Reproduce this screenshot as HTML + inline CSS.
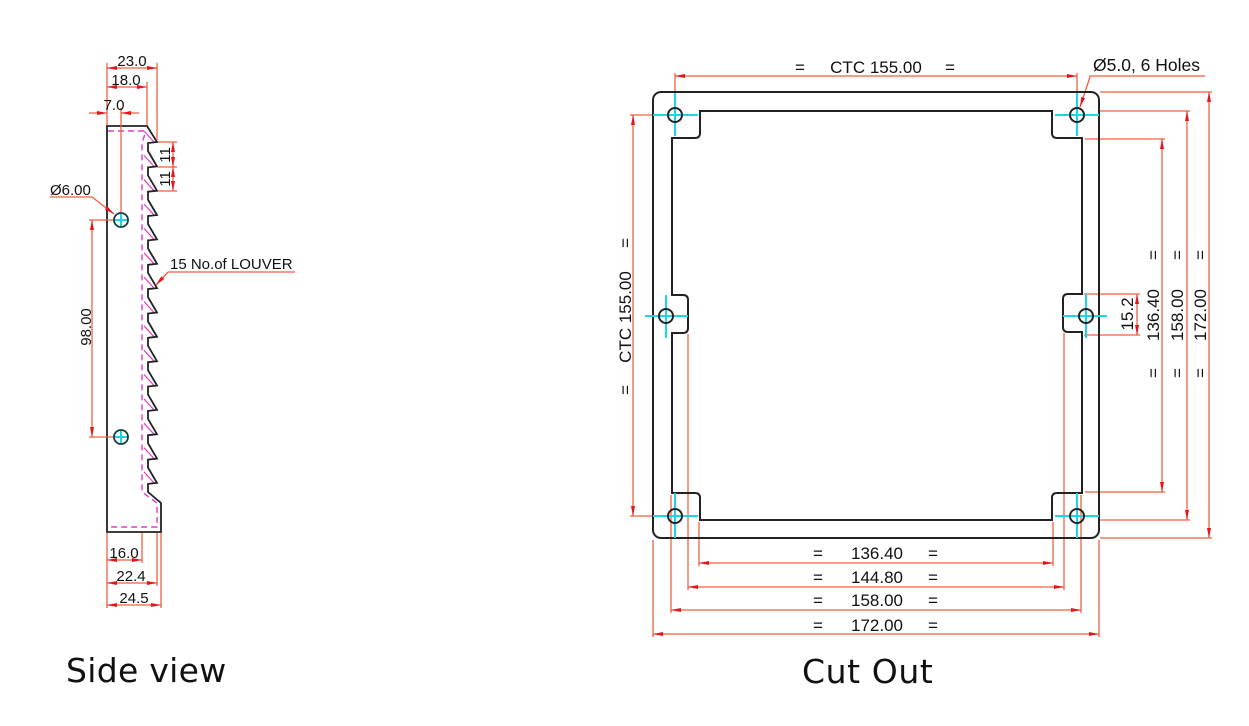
<!DOCTYPE html>
<html><head><meta charset="utf-8"><style>
html,body{margin:0;padding:0;background:#fff;}
svg{display:block;}
text{font-family:"Liberation Sans",Arial,sans-serif;fill:#111;}
.t{font-family:"DejaVu Sans","Liberation Sans",sans-serif;font-size:33px;fill:#111;}
.r{stroke:#f0603f;stroke-width:1.3;fill:none;}
.ra{stroke:#f0603f;stroke-width:1.3;fill:none;marker-start:url(#a);marker-end:url(#a);}
.re{stroke:#f0603f;stroke-width:1.3;fill:none;marker-end:url(#a);}
.k{stroke:#222;stroke-width:2;fill:none;}
.c{stroke:#1ad6e6;stroke-width:2;fill:none;}
.m{stroke:#e03cc8;stroke-width:1.4;fill:none;stroke-dasharray:6 4;}
.p{stroke:#e03cc8;stroke-width:1.2;fill:none;}
.s15{font-size:15px;}
.s17{font-size:17px;}
</style></head><body>
<svg width="1249" height="726" viewBox="0 0 1249 726" xmlns="http://www.w3.org/2000/svg">
<defs>
<marker id="a" viewBox="0 0 10 4" refX="10" refY="2" markerWidth="10" markerHeight="4" orient="auto-start-reverse" markerUnits="userSpaceOnUse"><path d="M0,0L10,2L0,4z" fill="#e8141c"/></marker>
</defs>
<rect width="1249" height="726" fill="#fff"/>

<!-- ================= SIDE VIEW ================= -->
<!-- magenta hidden lines -->
<path class="m" d="M108,131 L144,131 Q146,134 142,142 L142,492 L157,503 L157,527 L108,527"/>
<g class="p">
<path d="M144,131 L154,142"/>
<path d="M144,155.4 L154,166.4"/>
<path d="M144,179.7 L154,190.7"/>
<path d="M144,204 L154,215"/>
<path d="M144,228.4 L154,239.4"/>
<path d="M144,252.8 L154,263.8"/>
<path d="M144,277.1 L154,288.1"/>
<path d="M144,301.5 L154,312.5"/>
<path d="M144,325.8 L154,336.8"/>
<path d="M144,350.2 L154,361.2"/>
<path d="M144,374.5 L154,385.5"/>
<path d="M144,398.9 L154,409.9"/>
<path d="M144,423.2 L154,434.2"/>
<path d="M144,447.6 L154,458.6"/>
<path d="M144,471.9 L154,482.9"/>
</g>
<!-- plate outline with teeth -->
<path stroke="#222" stroke-width="1.8" fill="none" stroke-linejoin="miter" d="M107,126 L147,126 L157,142
L148,143 L148,151 L157,166.4
L148,167.4 L148,175.4 L157,190.7
L148,191.7 L148,199.7 L157,215
L148,216 L148,224 L157,239.4
L148,240.4 L148,248.4 L157,263.8
L148,264.8 L148,272.8 L157,288.1
L148,289.1 L148,297.1 L157,312.5
L148,313.5 L148,321.5 L157,336.8
L148,337.8 L148,345.8 L157,361.2
L148,362.2 L148,370.2 L157,385.5
L148,386.5 L148,394.5 L157,409.9
L148,410.9 L148,418.9 L157,434.2
L148,435.2 L148,443.2 L157,458.6
L148,459.6 L148,467.6 L157,482.9
L148,483.9 L148,492 L161,503 L161,532 L107,532 Z"/>

<!-- side view dims -->
<path class="r" d="M107,63 L107,125 M157,63 L157,140 M147,82 L147,125 M121,108 L121,212"/>
<path class="ra" d="M107,68 L157,68"/>
<path class="ra" d="M107,87 L147,87"/>
<path class="re" d="M89,113 L107,113"/>
<path class="re" d="M139,113 L121,113"/>
<text class="s15" x="132" y="66" text-anchor="middle">23.0</text>
<text class="s15" x="126" y="85" text-anchor="middle">18.0</text>
<text class="s15" x="114" y="110" text-anchor="middle">7.0</text>

<!-- Ø6.00 -->
<path class="r" d="M50,197 L92,197"/>
<path class="re" d="M92,197 L114,214"/>
<text class="s15" x="50" y="195">Ø6.00</text>

<!-- 11 / 11 -->
<path class="r" d="M158,142 L177,142 M158,167 L177,167 M158,191 L177,191"/>
<path class="ra" d="M173,142 L173,167"/>
<path class="ra" d="M173,167 L173,191"/>
<text class="s15" transform="translate(170,155) rotate(-90)" text-anchor="middle">11</text>
<text class="s15" transform="translate(170,179) rotate(-90)" text-anchor="middle">11</text>

<!-- 98.00 -->
<path class="r" d="M89,220 L114,220 M89,437 L114,437"/>
<path class="ra" d="M92,220 L92,437"/>
<text class="s15" transform="translate(91,327) rotate(-90)" text-anchor="middle">98.00</text>

<!-- holes -->
<circle cx="121" cy="220" r="7" stroke="#143c3c" stroke-width="1.8" fill="none"/>
<circle cx="121" cy="437" r="7" stroke="#143c3c" stroke-width="1.8" fill="none"/>
<path class="c" stroke-width="1.3" d="M115,220 L127,220 M121,214 L121,226 M115,437 L127,437 M121,431 L121,443"/>

<!-- louver label -->
<path class="r" d="M168,272 L295,272"/>
<path class="re" d="M168,272 L156,285"/>
<text class="s15" x="170" y="269">15 No.of LOUVER</text>

<!-- bottom dims -->
<path class="r" d="M107,533 L107,608 M142,533 L142,563 M157,533 L157,586 M161,533 L161,608"/>
<path class="ra" d="M107,560 L142,560"/>
<path class="ra" d="M107,583 L157,583"/>
<path class="ra" d="M107,605 L161,605"/>
<text class="s15" x="124" y="558" text-anchor="middle">16.0</text>
<text class="s15" x="131" y="581" text-anchor="middle">22.4</text>
<text class="s15" x="134" y="603" text-anchor="middle">24.5</text>

<text class="t" x="66" y="682" letter-spacing="0.3">Side view</text>

<!-- ================= CUT OUT ================= -->
<!-- red extension/dims behind -->
<path class="r" d="M675,73 L675,93 M1077,73 L1077,93
M630,115 L653,115 M630,516 L653,516
M1084,294 L1140,294 M1084,335 L1140,335
M1085,139 L1165,139 M1085,492 L1165,492
M1100,111 L1190,111 M1100,520 L1190,520
M1100,92 L1212,92 M1100,538 L1212,538
M699,522 L699,566 M1053,522 L1053,566
M688,334 L688,590 M1064,333 L1064,590
M671,495 L671,613 M1081,495 L1081,613
M653,540 L653,637 M1099,540 L1099,637
M1089,76 L1205,76"/>
<path class="ra" d="M675,76 L1077,76"/>
<path class="re" d="M1090,77 L1080,107"/>
<path class="ra" d="M633,115 L633,516"/>
<path class="ra" d="M1137,294 L1137,335"/>
<path class="ra" d="M1162,139 L1162,492"/>
<path class="ra" d="M1187,111 L1187,520"/>
<path class="ra" d="M1209,92 L1209,538"/>
<path class="ra" d="M699,563 L1053,563"/>
<path class="ra" d="M688,587 L1064,587"/>
<path class="ra" d="M671,610 L1081,610"/>
<path class="ra" d="M653,634 L1099,634"/>

<!-- outer frame -->
<rect x="653" y="92" width="446" height="446" rx="8" ry="8" class="k"/>
<!-- inner cutout with notches -->
<path class="k" d="M700,111 L1052,111 L1052,133 Q1052,138 1057,138 L1082,138 L1082,294 L1068,294 Q1063,294 1063,299 L1063,327 Q1063,332 1068,332 L1082,332 L1082,493 L1057,493 Q1052,493 1052,498 L1052,520 L700,520 L700,498 Q700,493 695,493 L672,493 L672,333 L683,333 Q688,333 688,328 L688,300 Q688,295 683,295 L672,295 L672,138 L695,138 Q700,138 700,133 Z"/>

<!-- cyan crosshairs -->
<path class="c" d="M653,115 L698,115 M675,93 L675,136
M1055,115 L1099,115 M1077,93 L1077,136
M645,316 L688,316 M666,295 L666,338
M1063,316 L1107,316 M1086,294 L1086,338
M653,516 L698,516 M675,493 L675,538
M1055,516 L1099,516 M1077,493 L1077,538"/>
<!-- holes -->
<g stroke="#222" stroke-width="2" fill="none">
<circle cx="675" cy="115" r="7"/>
<circle cx="1077" cy="115" r="7"/>
<circle cx="666" cy="316" r="7"/>
<circle cx="1086" cy="316" r="7"/>
<circle cx="675" cy="516" r="7"/>
<circle cx="1077" cy="516" r="7"/>
</g>

<!-- texts -->
<text class="s17" x="800" y="73" text-anchor="middle">=</text>
<text class="s17" x="876" y="73" text-anchor="middle">CTC 155.00</text>
<text class="s17" x="950" y="73" text-anchor="middle">=</text>
<text class="s17" x="1093" y="71" style="font-size:17.5px">Ø5.0, 6 Holes</text>

<text class="s17" transform="translate(631,243) rotate(-90)" text-anchor="middle">=</text>
<text class="s17" transform="translate(631,317) rotate(-90)" text-anchor="middle">CTC 155.00</text>
<text class="s17" transform="translate(631,390) rotate(-90)" text-anchor="middle">=</text>

<text class="s17" transform="translate(1133,314) rotate(-90)" text-anchor="middle">15.2</text>
<text class="s17" transform="translate(1159,315) rotate(-90)" text-anchor="middle">136.40</text>
<text class="s17" transform="translate(1183,315) rotate(-90)" text-anchor="middle">158.00</text>
<text class="s17" transform="translate(1206,315) rotate(-90)" text-anchor="middle">172.00</text>
<text class="s17" transform="translate(1159,255) rotate(-90)" text-anchor="middle">=</text>
<text class="s17" transform="translate(1183,255) rotate(-90)" text-anchor="middle">=</text>
<text class="s17" transform="translate(1206,255) rotate(-90)" text-anchor="middle">=</text>
<text class="s17" transform="translate(1159,373) rotate(-90)" text-anchor="middle">=</text>
<text class="s17" transform="translate(1183,373) rotate(-90)" text-anchor="middle">=</text>
<text class="s17" transform="translate(1206,373) rotate(-90)" text-anchor="middle">=</text>

<g class="s17" text-anchor="middle">
<text x="818" y="559">=</text><text x="877" y="559">136.40</text><text x="933" y="559">=</text>
<text x="818" y="583">=</text><text x="877" y="583">144.80</text><text x="933" y="583">=</text>
<text x="818" y="606">=</text><text x="877" y="606">158.00</text><text x="933" y="606">=</text>
<text x="818" y="631">=</text><text x="877" y="631">172.00</text><text x="933" y="631">=</text>
</g>

<text class="t" x="802" y="683" letter-spacing="0.6">Cut Out</text>
</svg>
</body></html>
